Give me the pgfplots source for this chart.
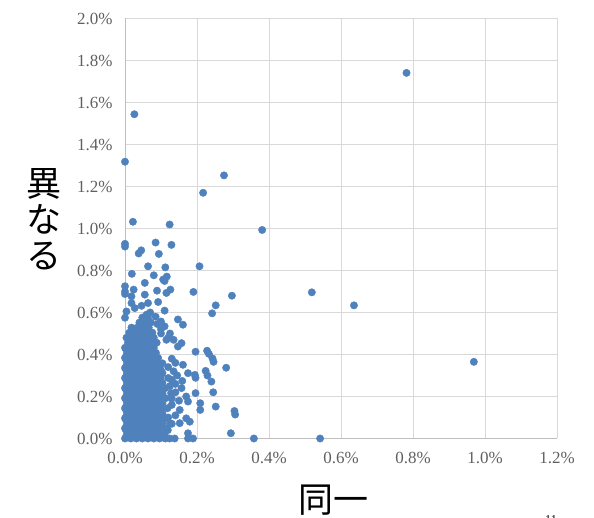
\documentclass[border=0pt]{standalone}
\usepackage{pgfplots}
\pgfplotsset{compat=1.18}
\usepackage{fontspec}
\setmainfont{Liberation Serif}
\newfontfamily\cjk{Noto Sans CJK JP}
\definecolor{ptblue}{RGB}{79,129,189}
\definecolor{gridgray}{RGB}{217,217,217}
\definecolor{axgray}{RGB}{191,191,191}
\definecolor{tickgray}{RGB}{96,96,96}
\begin{document}
\begin{tikzpicture}
\useasboundingbox (-125pt,-79.5pt) rectangle (469pt,438.5pt);
\begin{axis}[
  at={(0pt,0pt)}, anchor=south west,
  scale only axis, width=432pt, height=420pt,
  xmin=0, xmax=1.2, ymin=0, ymax=2.0,
  xtick={0,0.2,0.4,0.6,0.8,1.0,1.2},
  ytick={0,0.2,0.4,0.6,0.8,1.0,1.2,1.4,1.6,1.8,2.0},
  grid=major, grid style={gridgray, line width=0.9pt},
  axis x line=bottom, axis y line=left,
  axis line style={-, axgray, line width=0.9pt},
  major tick length=0pt,
  /pgf/number format/assume math mode=true,
  tick label style={font=\fontsize{17}{17}\selectfont, text=tickgray},
  xticklabel={\pgfmathprintnumber[fixed,fixed zerofill,precision=1]{\tick}\%},
  yticklabel={\pgfmathprintnumber[fixed,fixed zerofill,precision=1]{\tick}\%},
  xticklabel style={yshift=-10.5pt},
  yticklabel style={xshift=-9pt},
  clip=false,
]
\addplot[only marks, mark=*, mark size=3.7pt, color=ptblue, mark options={fill=ptblue, draw=ptblue}] coordinates {
(0,0) (0.016,0) (0.032,0) (0.048,0) (0.064,0) (0.080,0) (0.096,0) (0.112,0)
(0.008,0.024) (0.024,0.024) (0.040,0.024) (0.056,0.024) (0.072,0.024) (0.088,0.024) (0.104,0.024)
(0,0.048) (0.016,0.048) (0.032,0.048) (0.048,0.048) (0.064,0.048) (0.080,0.048) (0.096,0.048) (0.115,0.048)
(0.008,0.072) (0.024,0.072) (0.040,0.072) (0.056,0.072) (0.072,0.072) (0.088,0.072) (0.104,0.072) (0.125,0.072)
(0,0.096) (0.016,0.096) (0.032,0.096) (0.048,0.096) (0.064,0.096) (0.080,0.096) (0.096,0.096) (0.112,0.096)
(0.008,0.120) (0.024,0.120) (0.040,0.120) (0.056,0.120) (0.072,0.120) (0.088,0.120) (0.104,0.120)
(0,0.144) (0.016,0.144) (0.032,0.144) (0.048,0.144) (0.064,0.144) (0.080,0.144) (0.096,0.144) (0.118,0.144)
(0.008,0.168) (0.024,0.168) (0.040,0.168) (0.056,0.168) (0.072,0.168) (0.088,0.168) (0.104,0.168)
(0,0.192) (0.016,0.192) (0.032,0.192) (0.048,0.192) (0.064,0.192) (0.080,0.192) (0.096,0.192) (0.113,0.192)
(0.008,0.216) (0.024,0.216) (0.040,0.216) (0.056,0.216) (0.072,0.216) (0.088,0.216) (0.104,0.216) (0.128,0.216)
(0,0.240) (0.016,0.240) (0.032,0.240) (0.048,0.240) (0.064,0.240) (0.080,0.240) (0.096,0.240) (0.112,0.240)
(0.008,0.264) (0.024,0.264) (0.040,0.264) (0.056,0.264) (0.072,0.264) (0.088,0.264) (0.104,0.264)
(0,0.288) (0.016,0.288) (0.032,0.288) (0.048,0.288) (0.064,0.288) (0.080,0.288) (0.096,0.288) (0.120,0.288)
(0.008,0.312) (0.024,0.312) (0.040,0.312) (0.056,0.312) (0.072,0.312) (0.088,0.312) (0.104,0.312)
(0,0.336) (0.016,0.336) (0.032,0.336) (0.048,0.336) (0.064,0.336) (0.080,0.336) (0.096,0.336)
(0.008,0.360) (0.024,0.360) (0.040,0.360) (0.056,0.360) (0.072,0.360) (0.088,0.360) (0.104,0.358)
(0,0.384) (0.016,0.384) (0.032,0.384) (0.048,0.384) (0.064,0.384) (0.080,0.384) (0.092,0.384)
(0.008,0.408) (0.024,0.408) (0.040,0.408) (0.056,0.408) (0.072,0.408) (0.086,0.408)
(0,0.432) (0.016,0.432) (0.032,0.432) (0.048,0.432) (0.064,0.432) (0.080,0.432)
(0.008,0.456) (0.024,0.456) (0.040,0.456) (0.056,0.456) (0.072,0.456) (0.088,0.456)
(0.004,0.480) (0.016,0.480) (0.032,0.480) (0.048,0.480) (0.064,0.480) (0.080,0.480)
(0.012,0.504) (0.028,0.504) (0.044,0.504) (0.060,0.504) (0.076,0.504)
(0.018,0.528) (0.034,0.528) (0.050,0.528) (0.066,0.528)
(0.040,0.552) (0.056,0.552) (0.072,0.552)
(0.048,0.576) (0.064,0.576)
(0.004,0.012) (0.020,0.012) (0.036,0.012) (0.052,0.012) (0.068,0.012) (0.084,0.012) (0.100,0.010)
(0.004,0.036) (0.020,0.036) (0.036,0.036) (0.052,0.036) (0.068,0.036) (0.084,0.036) (0.100,0.036)
(0.004,0.060) (0.020,0.060) (0.036,0.060) (0.052,0.060) (0.068,0.060) (0.084,0.060) (0.100,0.060)
(0.004,0.084) (0.020,0.084) (0.036,0.084) (0.052,0.084) (0.068,0.084) (0.084,0.084) (0.100,0.084)
(0.004,0.108) (0.020,0.108) (0.036,0.108) (0.052,0.108) (0.068,0.108) (0.084,0.108) (0.100,0.108)
(0.004,0.132) (0.020,0.132) (0.036,0.132) (0.052,0.132) (0.068,0.132) (0.084,0.132) (0.100,0.132)
(0.004,0.156) (0.020,0.156) (0.036,0.156) (0.052,0.156) (0.068,0.156) (0.084,0.156) (0.100,0.156)
(0.004,0.180) (0.020,0.180) (0.036,0.180) (0.052,0.180) (0.068,0.180) (0.084,0.180) (0.100,0.180)
(0.004,0.204) (0.020,0.204) (0.036,0.204) (0.052,0.204) (0.068,0.204) (0.084,0.204) (0.100,0.204)
(0.004,0.228) (0.020,0.228) (0.036,0.228) (0.052,0.228) (0.068,0.228) (0.084,0.228) (0.100,0.228)
(0.004,0.252) (0.020,0.252) (0.036,0.252) (0.052,0.252) (0.068,0.252) (0.084,0.252) (0.100,0.252)
(0.004,0.276) (0.020,0.276) (0.036,0.276) (0.052,0.276) (0.068,0.276) (0.084,0.276) (0.100,0.276)
(0.004,0.300) (0.020,0.300) (0.036,0.300) (0.052,0.300) (0.068,0.300) (0.084,0.300) (0.100,0.300)
(0.004,0.324) (0.020,0.324) (0.036,0.324) (0.052,0.324) (0.068,0.324) (0.084,0.324) (0.100,0.324)
(0.004,0.348) (0.020,0.348) (0.036,0.348) (0.052,0.348) (0.068,0.348) (0.084,0.348)
(0.004,0.372) (0.020,0.372) (0.036,0.372) (0.052,0.372) (0.068,0.372) (0.084,0.372)
(0.004,0.396) (0.020,0.396) (0.036,0.396) (0.052,0.396) (0.068,0.396) (0.080,0.396)
(0.004,0.420) (0.020,0.420) (0.036,0.420) (0.052,0.420) (0.068,0.420)
(0.013,0.444) (0.030,0.444) (0.046,0.444) (0.062,0.444)
(0.020,0.468) (0.038,0.468) (0.056,0.468)
(0.13,0.38) (0.14,0.36) (0.12,0.34) (0.135,0.32) (0.145,0.30) (0.13,0.28) (0.14,0.26) (0.125,0.25)
(0.14,0.22) (0.13,0.19) (0.15,0.18) (0.13,0.16) (0.14,0.11) (0.12,0.10) (0.13,0.07) (0.11,0.02) (0.10,0.015)
(0.10,0.52) (0.125,0.50) (0.135,0.47) (0.09,0.545) (0.10,0.50) (0.12,0.48) (0.07,0.60) (0.085,0.58) (0.06,0.59)
(0.161,0.351) (0.175,0.311) (0.194,0.303) (0.196,0.289) (0.224,0.322) (0.229,0.300) (0.24,0.271) (0.281,0.337)
(0.245,0.22) (0.196,0.216) (0.159,0.274) (0.157,0.24) (0.17,0.20) (0.175,0.176) (0.209,0.168) (0.209,0.136)
(0.252,0.152) (0.17,0.096) (0.18,0.08) (0.152,0.073) (0.152,0.136) (0.119,0.04) (0.175,0.025)
(0.124,0) (0.138,0) (0.175,0) (0.189,0) (0.304,0.131) (0.306,0.114) (0.294,0.025) (0.358,0) (0.542,0)
(0.196,0.413) (0.228,0.418) (0.233,0.403) (0.243,0.381) (0.246,0.365)
(0.147,0.438) (0.157,0.454) (0.115,0.47) (0.11,0.534) (0.1,0.557) (0.147,0.567) (0.161,0.542)
(0.11,0.609) (0.242,0.596) (0.252,0.634) (0.027,0.621) (0.004,0.605) (0,0.575) (0.018,0.645)
(0.046,0.632) (0.064,0.645) (0.092,0.650) (0.018,0.677) (0.055,0.685) (0.115,0.693) (0.19,0.698)
(0.126,0.709) (0.089,0.704) (0.024,0.709) (0,0.725) (0,0.70) (0,0.688) (0.055,0.741) (0.106,0.757)
(0.116,0.771) (0.11,0.75) (0.112,0.815) (0.080,0.777) (0.064,0.820) (0.019,0.784) (0.297,0.680)
(0.045,0.896) (0.038,0.881) (0.094,0.879) (0.085,0.933) (0.129,0.922) (0,0.927) (0,0.914)
(0.207,0.820) (0.022,1.032) (0.124,1.019) (0.381,0.993) (0.217,1.170) (0.275,1.253) (0,1.318)
(0.026,1.544) (0.782,1.741) (0.519,0.696) (0.636,0.634) (0.969,0.365)
};
\end{axis}
\node[font=\cjk\fontsize{35}{36}\selectfont, align=center, inner sep=0pt] at (-81pt,219.5pt) {異\\な\\る};
\node[font=\cjk\fontsize{35}{35}\selectfont, inner sep=0pt] at (208.5pt,-61.5pt) {同一};
\node[font=\fontsize{12}{12}\selectfont, anchor=north, inner sep=0pt] at (426pt,-76.5pt) {11};
\end{tikzpicture}
\end{document}
